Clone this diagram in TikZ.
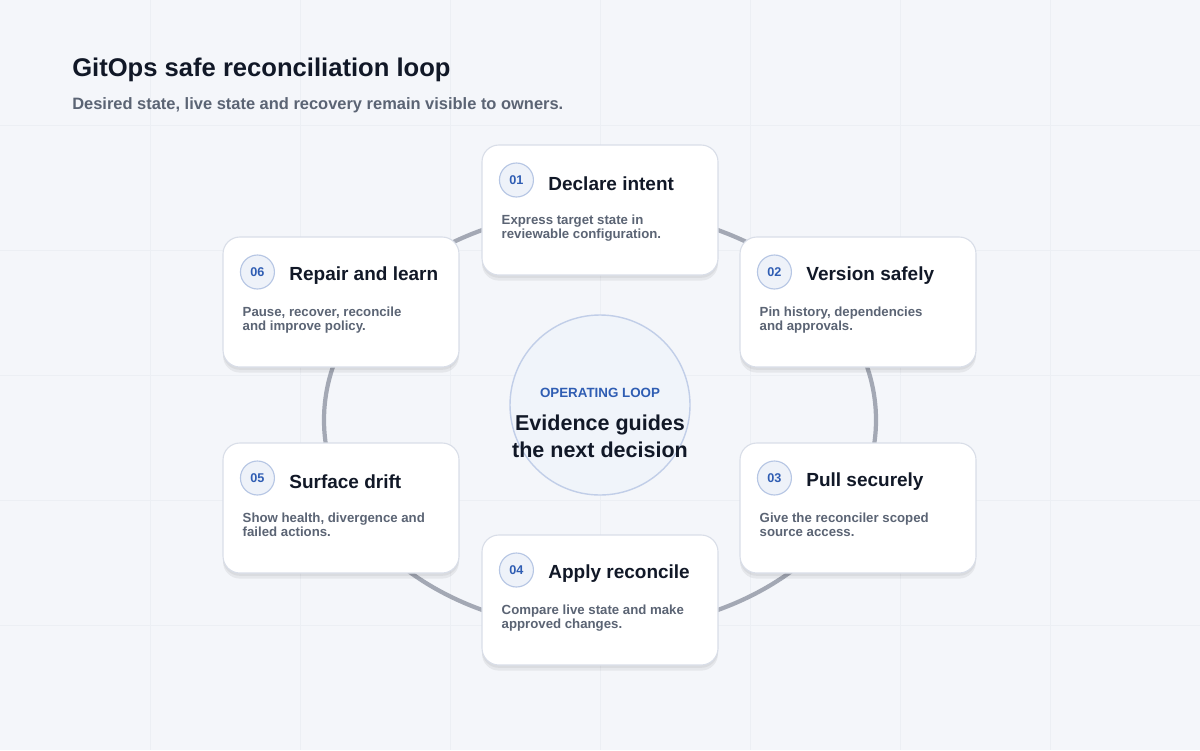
\documentclass[tikz,border=0pt]{standalone}
\usepackage{fontspec}
\setmainfont{Liberation Sans}
\usetikzlibrary{positioning,shadows}
\definecolor{ink}{HTML}{111827}
\definecolor{muted}{HTML}{5B6474}
\definecolor{accent}{HTML}{2F5DB3}
\definecolor{ringc}{HTML}{A3A8B4}
\definecolor{bgc}{HTML}{F4F6FA}
\definecolor{edgec}{HTML}{D9DEE8}
\definecolor{gridc}{HTML}{ECEFF4}

\begin{document}
\begin{tikzpicture}[
    x=0.025cm, y=-0.025cm,
    card/.style={draw=edgec, line width=0.8pt, fill=white, rounded corners=12pt,
        minimum width=236*0.025cm, minimum height=130*0.025cm,
        drop shadow={shadow xshift=0pt, shadow yshift=-4pt, opacity=0.06, fill=black},
        drop shadow={shadow xshift=0pt, shadow yshift=-2pt, opacity=0.05, fill=black}},
    badge/.style={circle, draw=accent!35, line width=0.8pt, fill=accent!8,
        minimum size=34*0.025cm, inner sep=0pt, text=accent, font=\bfseries\fontsize{9}{10}\selectfont},
    step title/.style={anchor=west, text=ink, font=\bfseries\fontsize{13.5}{16}\selectfont},
    step text/.style={anchor=north west, text=muted, inner sep=0pt, align=left,
        font=\bfseries\fontsize{9.4}{9.8}\selectfont},
    ring/.style={draw=ringc, line width=3pt}
    ]
    % background
    \fill[bgc] (0,0) rectangle (1200,750);
    \useasboundingbox (0,0) rectangle (1200,750);
    \foreach \x in {150,300,...,1050} \draw[gridc, line width=0.4pt] (\x,0) -- (\x,750);
    \foreach \y in {125,250,...,625} \draw[gridc, line width=0.4pt] (0,\y) -- (1200,\y);
    % heading
    \node[anchor=west, inner sep=0pt, text=ink, font=\bfseries\fontsize{18.2}{20}\selectfont] (title) at (72,70) {GitOps safe reconciliation loop};
    \node[anchor=west, inner sep=0pt, text=muted, font=\bfseries\fontsize{11.7}{14}\selectfont] (subtitle) at (72,105) {Desired state, live state and recovery remain visible to owners.};
    % ring
    \draw[ring] (600,420) ellipse [x radius=276, y radius=210];
    % centre
    \node[circle, draw=accent!30, line width=1pt, fill=accent!7, minimum size=180*0.025cm] (hub) at (600,405) {};
    \node[text=accent, font=\bfseries\fontsize{9.5}{11}\selectfont] (hublabel) at (600,393) {OPERATING LOOP};
    \node[below=5pt of hublabel, text=ink, align=center, font=\bfseries\fontsize{15.3}{19}\selectfont] (hubtext) {Evidence guides\\the next decision};
    % cards
    \foreach \n/\cx/\cy/\head/\body in {
        01/600/210/Declare intent/{Express target state in\\reviewable configuration.},
        02/858/302/Version safely/{Pin history, dependencies\\and approvals.},
        03/858/508/Pull securely/{Give the reconciler scoped\\source access.},
        04/600/600/Apply reconcile/{Compare live state and make\\approved changes.},
        05/341/508/Surface drift/{Show health, divergence and\\failed actions.},
        06/341/302/Repair and learn/{Pause, recover, reconcile\\and improve policy.}} {
        \node[card] (card\n) at (\cx,\cy) {};
        \node[badge] (badge\n) at ([xshift=35*0.025cm, yshift=30*0.025cm]card\n.west) {\n};
        \node[step title] (head\n) at ([xshift=62*0.025cm, yshift=26*0.025cm]card\n.west) {\head};
        \node[step text] (body\n) at ([xshift=20*0.025cm, yshift=-5*0.025cm]card\n.west) {\body};
    }
\end{tikzpicture}
\end{document}
